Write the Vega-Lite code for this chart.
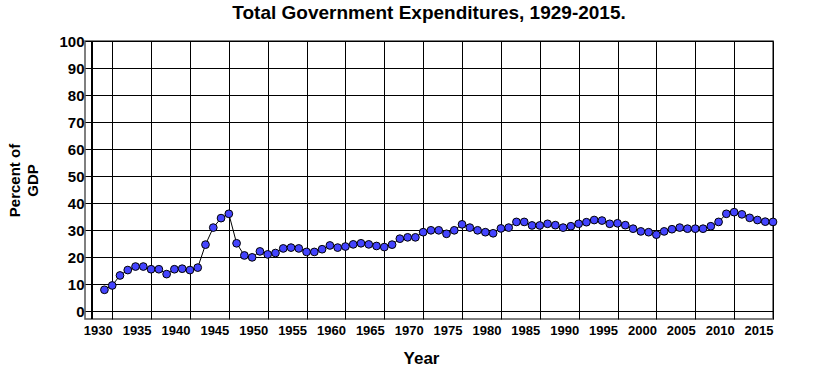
{
  "$schema": "https://vega.github.io/schema/vega-lite/v6.json",
  "autosize": {"type": "none"},
  "width": 688,
  "height": 278,
  "padding": {"left": 85, "top": 41, "right": 49, "bottom": 56},
  "background": "white",
  "title": {
    "text": "Total Government Expenditures, 1929-2015.",
    "font": "Liberation Sans",
    "fontSize": 19,
    "fontWeight": "bold",
    "color": "black",
    "anchor": "middle",
    "offset": 11
  },
  "config": {
    "view": {"stroke": "#555555", "strokeWidth": 1.5},
    "axis": {
      "labelFont": "Liberation Sans",
      "labelFontWeight": "bold",
      "labelColor": "black",
      "titleFont": "Liberation Sans",
      "titleFontWeight": "bold",
      "titleColor": "black",
      "gridColor": "black",
      "gridOpacity": 1,
      "gridWidth": 1,
      "ticks": false,
      "domain": false
    }
  },
  "data": {
    "values": [
      {"year": 1929, "pct": 8.0},
      {"year": 1930, "pct": 9.6},
      {"year": 1931, "pct": 13.3},
      {"year": 1932, "pct": 15.3},
      {"year": 1933, "pct": 16.6},
      {"year": 1934, "pct": 16.6},
      {"year": 1935, "pct": 15.6},
      {"year": 1936, "pct": 15.6},
      {"year": 1937, "pct": 13.8},
      {"year": 1938, "pct": 15.6},
      {"year": 1939, "pct": 15.8},
      {"year": 1940, "pct": 15.3},
      {"year": 1941, "pct": 16.2},
      {"year": 1942, "pct": 24.7},
      {"year": 1943, "pct": 31.0},
      {"year": 1944, "pct": 34.5},
      {"year": 1945, "pct": 36.1},
      {"year": 1946, "pct": 25.2},
      {"year": 1947, "pct": 20.7},
      {"year": 1948, "pct": 20.0},
      {"year": 1949, "pct": 22.2},
      {"year": 1950, "pct": 21.1},
      {"year": 1951, "pct": 21.6},
      {"year": 1952, "pct": 23.3},
      {"year": 1953, "pct": 23.6},
      {"year": 1954, "pct": 23.3},
      {"year": 1955, "pct": 22.0},
      {"year": 1956, "pct": 22.0},
      {"year": 1957, "pct": 23.0},
      {"year": 1958, "pct": 24.4},
      {"year": 1959, "pct": 23.6},
      {"year": 1960, "pct": 24.0},
      {"year": 1961, "pct": 24.8},
      {"year": 1962, "pct": 25.2},
      {"year": 1963, "pct": 24.8},
      {"year": 1964, "pct": 24.2},
      {"year": 1965, "pct": 23.8},
      {"year": 1966, "pct": 24.7},
      {"year": 1967, "pct": 26.9},
      {"year": 1968, "pct": 27.4},
      {"year": 1969, "pct": 27.4},
      {"year": 1970, "pct": 29.3},
      {"year": 1971, "pct": 30.0},
      {"year": 1972, "pct": 30.0},
      {"year": 1973, "pct": 28.7},
      {"year": 1974, "pct": 30.0},
      {"year": 1975, "pct": 32.2},
      {"year": 1976, "pct": 31.0},
      {"year": 1977, "pct": 30.0},
      {"year": 1978, "pct": 29.3},
      {"year": 1979, "pct": 28.9},
      {"year": 1980, "pct": 30.7},
      {"year": 1981, "pct": 31.0},
      {"year": 1982, "pct": 33.1},
      {"year": 1983, "pct": 33.1},
      {"year": 1984, "pct": 31.8},
      {"year": 1985, "pct": 31.8},
      {"year": 1986, "pct": 32.4},
      {"year": 1987, "pct": 31.9},
      {"year": 1988, "pct": 31.0},
      {"year": 1989, "pct": 31.5},
      {"year": 1990, "pct": 32.4},
      {"year": 1991, "pct": 33.0},
      {"year": 1992, "pct": 33.8},
      {"year": 1993, "pct": 33.6},
      {"year": 1994, "pct": 32.4},
      {"year": 1995, "pct": 32.6},
      {"year": 1996, "pct": 31.9},
      {"year": 1997, "pct": 30.6},
      {"year": 1998, "pct": 29.6},
      {"year": 1999, "pct": 29.3},
      {"year": 2000, "pct": 28.4},
      {"year": 2001, "pct": 29.6},
      {"year": 2002, "pct": 30.4},
      {"year": 2003, "pct": 31.0},
      {"year": 2004, "pct": 30.6},
      {"year": 2005, "pct": 30.6},
      {"year": 2006, "pct": 30.6},
      {"year": 2007, "pct": 31.5},
      {"year": 2008, "pct": 33.1},
      {"year": 2009, "pct": 36.1},
      {"year": 2010, "pct": 36.7},
      {"year": 2011, "pct": 35.9},
      {"year": 2012, "pct": 34.6},
      {"year": 2013, "pct": 33.8},
      {"year": 2014, "pct": 33.2},
      {"year": 2015, "pct": 33.1}
    ]
  },
  "encoding": {
    "x": {
      "field": "year",
      "type": "quantitative",
      "scale": {"domain": [1926.5, 2015], "nice": false, "zero": false},
      "axis": {
        "values": [1930, 1935, 1940, 1945, 1950, 1955, 1960, 1965, 1970, 1975, 1980, 1985, 1990, 1995, 2000, 2005, 2010, 2015],
        "format": "d",
        "labelAlign": "right",
        "labelFontSize": 13,
        "labelPadding": 5,
        "labelOverlap": false,
        "labelBound": false,
        "labelFlush": false,
        "title": "Year",
        "titleFontSize": 17,
        "titlePadding": 13,
        "titleX": 336
      }
    },
    "y": {
      "field": "pct",
      "type": "quantitative",
      "scale": {"domain": [-2.8, 100], "nice": false, "zero": false},
      "axis": {
        "values": [0, 10, 20, 30, 40, 50, 60, 70, 80, 90, 100],
        "labelFontSize": 15,
        "labelPadding": 1,
        "labelOverlap": false,
        "labelBound": false,
        "labelFlush": false,
        "title": ["Percent of", "GDP"],
        "titleFontSize": 15,
        "titlePadding": 18,
        "titleLineHeight": 18
      }
    }
  },
  "layer": [
    {
      "mark": {"type": "rule", "color": "black", "strokeWidth": 1},
      "encoding": {"x": {"datum": 1927.45}, "y": null}
    },
    {
      "mark": {"type": "line", "color": "black", "strokeWidth": 1}
    },
    {
      "mark": {"type": "point", "filled": true, "fill": "#4444ff", "stroke": "black", "strokeWidth": 1, "size": 60, "opacity": 1}
    }
  ]
}
